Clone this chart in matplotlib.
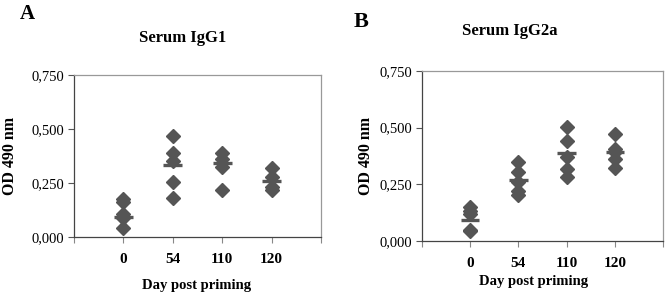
import numpy as np
import matplotlib
matplotlib.use('Agg')
import matplotlib.pyplot as plt

days = ['0', '54', '110', '120']

# OD 490 nm, one list per day
igg1_points = [
    [0.174, 0.163, 0.106, 0.087, 0.043],
    [0.468, 0.389, 0.353, 0.255, 0.182],
    [0.389, 0.361, 0.326, 0.216],
    [0.319, 0.276, 0.233, 0.218],
]
igg1_lines = [0.093, 0.335, 0.343, 0.261]

igg2a_points = [
    [0.148, 0.134, 0.119, 0.047, 0.043],
    [0.350, 0.303, 0.260, 0.220, 0.205],
    [0.502, 0.440, 0.372, 0.316, 0.281],
    [0.472, 0.404, 0.393, 0.360, 0.322],
]
igg2a_lines = [0.094, 0.269, 0.390, 0.394]

yticks = [0.0, 0.25, 0.5, 0.75]
ytick_labels = ['0,000', '0,250', '0,500', '0,750']

plt.rcParams['font.family'] = ['Liberation Serif', 'DejaVu Serif']

W, H = 665, 295
fig = plt.figure(figsize=(W / 100, H / 100), dpi=100)

mark_col = '#555555'


def px(x, y):
    return x / W, 1 - y / H


def draw_panel(rect, points, lines, title, letter, pos):
    ax = fig.add_axes(rect)
    for i, vals in enumerate(points):
        xs = np.full(len(vals), i + 1)
        ax.plot(xs, vals, 'D', color=mark_col, ms=6.8, mec=mark_col, zorder=3)
        ax.hlines(lines[i], i + 1 - 0.19, i + 1 + 0.19, color=mark_col, lw=2.4, zorder=4)
    ax.set_xlim(0, 5)
    ax.set_ylim(0, 0.75)
    ax.set_yticks(yticks)
    ax.set_yticklabels(ytick_labels, fontsize=10.5)
    ax.set_xticks(range(6))
    ax.set_xticklabels([])
    ax.tick_params(axis='y', length=4, width=0.8, color='#555555', pad=3)
    ax.tick_params(axis='x', length=4, width=0.8, color='#888888')
    for s in ['top', 'right']:
        ax.spines[s].set_color('#999999')
    for s in ['left', 'bottom']:
        ax.spines[s].set_color('#444444')
    for sp in ax.spines.values():
        sp.set_linewidth(0.9)
    for i, d in enumerate(days):
        ax.text(i + 1, pos['tick_y'], d, transform=ax.get_xaxis_transform(),
                ha='center', va='center', fontsize=11, fontweight='bold')
    fig.text(*px(*pos['title']), title, ha='center', va='center', fontsize=12, fontweight='bold')
    fig.text(*px(*pos['letter']), letter, ha='center', va='center', fontsize=pos['lsize'], fontweight='bold')
    fig.text(*px(*pos['ylabel']), 'OD 490 nm', ha='center', va='center', rotation=90,
             fontsize=11.5, fontweight='bold')
    fig.text(*px(*pos['xlabel']), 'Day post priming', ha='center', va='center',
             fontsize=10.5, fontweight='bold')
    return ax


axA = draw_panel([74 / W, 1 - 237 / H, 247 / W, 162 / H], igg1_points, igg1_lines,
                 'Serum IgG1', 'A',
                 dict(tick_y=-0.14, title=(183, 38), letter=(27, 14), lsize=15,
                      ylabel=(10, 156), xlabel=(197, 285)))
axB = draw_panel([422 / W, 1 - 241 / H, 241 / W, 170 / H], igg2a_points, igg2a_lines,
                 'Serum IgG2a', 'B',
                 dict(tick_y=-0.13, title=(510, 31), letter=(361, 22), lsize=16,
                      ylabel=(366, 156), xlabel=(534, 282)))

fig.savefig('out.png', dpi=100)
